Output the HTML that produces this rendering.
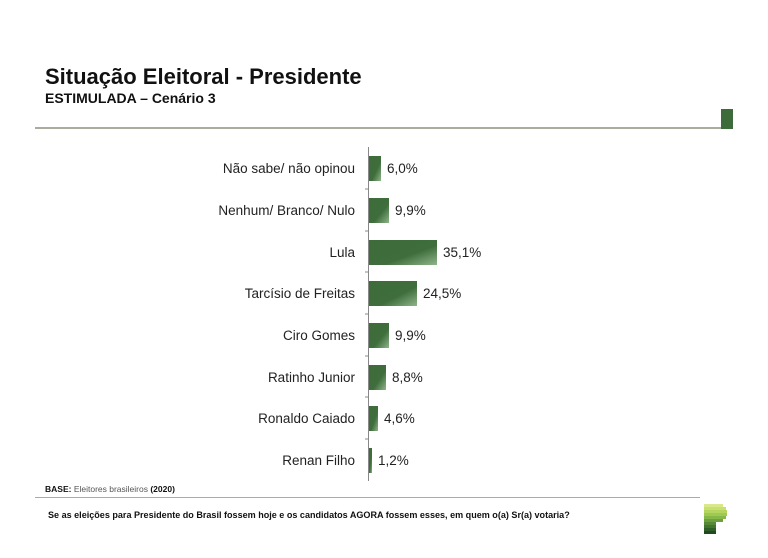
<!DOCTYPE html>
<html><head><meta charset="utf-8"><style>
body{margin:0;background:#fff;}
svg text{font-family:"Liberation Sans",Arial,sans-serif;}
</style></head><body>
<svg width="768" height="553" xmlns="http://www.w3.org/2000/svg">
<defs><linearGradient id="g" x1="0" y1="0" x2="1" y2="1">
<stop offset="0" stop-color="#3d6b3a"/><stop offset="0.6" stop-color="#3f6e3c"/><stop offset="1" stop-color="#8fb58a"/></linearGradient></defs>
<rect width="768" height="553" fill="#fff"/>
<text x="45" y="84" font-size="22" font-weight="bold" fill="#111">Situação Eleitoral - Presidente</text>
<text x="45" y="103" font-size="14" font-weight="bold" fill="#111">ESTIMULADA – Cenário 3</text>
<rect x="35" y="127" width="687" height="2" fill="#a8ad9e"/>
<rect x="721" y="109" width="12" height="20" fill="#3d6b3a"/>
<line x1="368.5" y1="147" x2="368.5" y2="481" stroke="#888" stroke-width="1"/>
<g stroke="#888"><line x1="365" y1="189" x2="368" y2="189"/><line x1="365" y1="231" x2="368" y2="231"/><line x1="365" y1="272" x2="368" y2="272"/><line x1="365" y1="314" x2="368" y2="314"/><line x1="365" y1="356" x2="368" y2="356"/><line x1="365" y1="397" x2="368" y2="397"/><line x1="365" y1="439" x2="368" y2="439"/></g>
<g font-size="13.5" fill="#222">
<g text-anchor="end">
<text x="355" y="173">Não sabe/ não opinou</text>
<text x="355" y="215">Nenhum/ Branco/ Nulo</text>
<text x="355" y="257">Lula</text>
<text x="355" y="298">Tarcísio de Freitas</text>
<text x="355" y="340">Ciro Gomes</text>
<text x="355" y="382">Ratinho Junior</text>
<text x="355" y="423">Ronaldo Caiado</text>
<text x="355" y="465">Renan Filho</text>
</g>
<rect x="369" y="156" width="12" height="25" fill="url(#g)"/><text x="387" y="173">6,0%</text>
<rect x="369" y="198" width="20" height="25" fill="url(#g)"/><text x="395" y="215">9,9%</text>
<rect x="369" y="240" width="68" height="25" fill="url(#g)"/><text x="443" y="257">35,1%</text>
<rect x="369" y="281" width="48" height="25" fill="url(#g)"/><text x="423" y="298">24,5%</text>
<rect x="369" y="323" width="20" height="25" fill="url(#g)"/><text x="395" y="340">9,9%</text>
<rect x="369" y="365" width="17" height="25" fill="url(#g)"/><text x="392" y="382">8,8%</text>
<rect x="369" y="406" width="9" height="25" fill="url(#g)"/><text x="384" y="423">4,6%</text>
<rect x="369" y="448" width="3" height="25" fill="url(#g)"/><text x="378" y="465">1,2%</text>
</g>
<text x="45" y="492" font-size="8.5" fill="#555"><tspan font-weight="bold" fill="#111">BASE:</tspan> Eleitores brasileiros <tspan font-weight="bold" fill="#111">(2020)</tspan></text>
<rect x="35" y="497" width="665" height="1" fill="#a8ad9e"/>
<text x="48" y="518" font-size="9.05" font-weight="bold" fill="#111">Se as eleições para Presidente do Brasil fossem hoje e os candidatos AGORA fossem esses, em quem o(a) Sr(a) votaria?</text>
<g>
<rect x="704" y="504" width="19" height="3" fill="#d8e88a"/>
<rect x="704" y="507" width="22" height="3" fill="#c9e070"/>
<rect x="704" y="510" width="23" height="3" fill="#b5d65e"/>
<rect x="704" y="513" width="23" height="3" fill="#9fca52"/>
<rect x="704" y="516" width="22" height="3" fill="#86b848"/>
<rect x="704" y="519" width="19" height="3" fill="#6ea040"/>
<rect x="704" y="522" width="12" height="3" fill="#578a38"/>
<rect x="704" y="525" width="12" height="3" fill="#427530"/>
<rect x="704" y="528" width="12" height="3" fill="#305e28"/>
<rect x="704" y="531" width="12" height="3" fill="#214a20"/>
</g>
</svg>
</body></html>
